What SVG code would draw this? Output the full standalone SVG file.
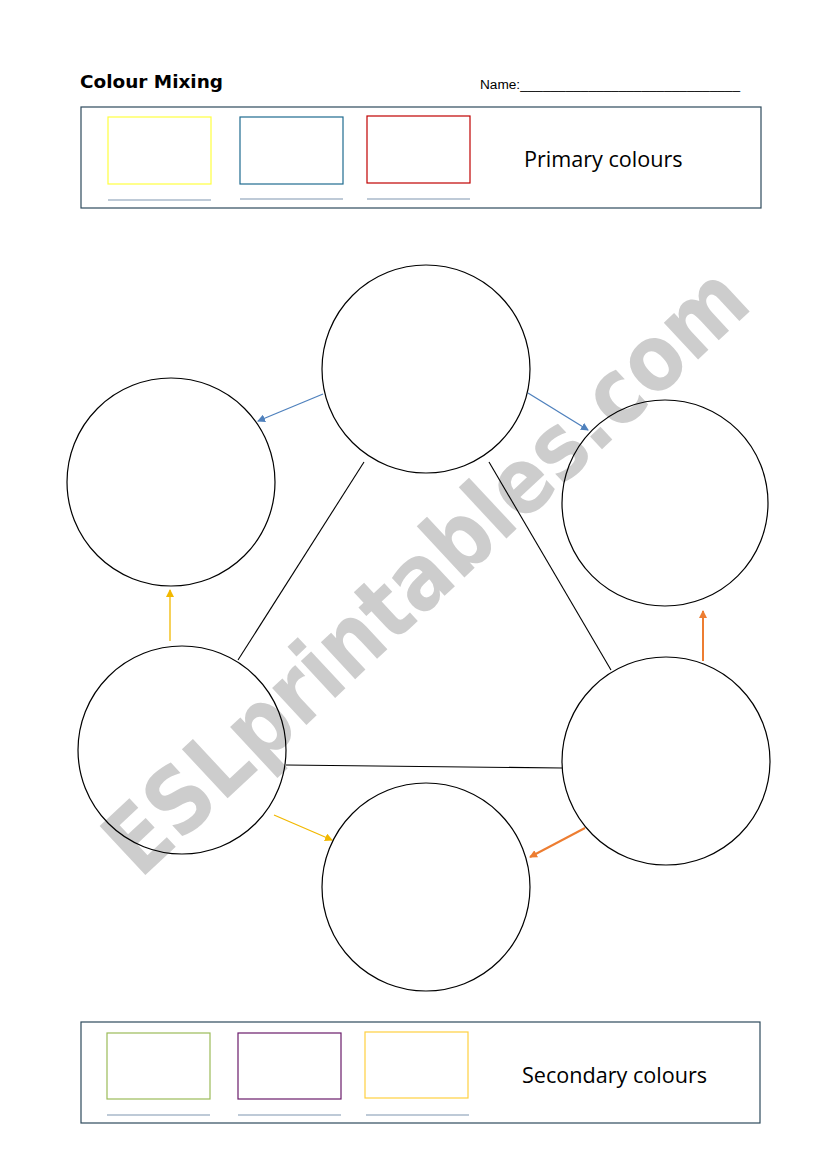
<svg xmlns="http://www.w3.org/2000/svg" width="826" height="1169" viewBox="0 0 826 1169">
<style>
.circle{fill:none;stroke:#000;stroke-width:1.2}
.box{fill:none;stroke:#2e4a5c;stroke-width:1.2}
.ul{stroke:#7f95b0;stroke-width:1.2}
.lbl{font-family:"Open Sans","Liberation Sans",sans-serif;font-size:21.6px;fill:#000}
.tri{stroke:#000;stroke-width:1.1;fill:none}
</style>
<defs>
<marker id="ab" markerWidth="8" markerHeight="8" refX="7" refY="4" orient="auto" markerUnits="userSpaceOnUse"><path d="M0,0 L8,4 L0,8 Z" fill="#4f81bd"/></marker>
<marker id="ay" markerWidth="8" markerHeight="8" refX="7" refY="4" orient="auto" markerUnits="userSpaceOnUse"><path d="M0,0 L8,4 L0,8 Z" fill="#f2b800"/></marker>
<marker id="ao" markerWidth="8" markerHeight="8" refX="7" refY="4" orient="auto" markerUnits="userSpaceOnUse"><path d="M0,0 L8,4 L0,8 Z" fill="#ed7d31"/></marker>
</defs>
<rect width="826" height="1169" fill="#fff"/>
<text x="80" y="88" font-family="DejaVu Sans, sans-serif" font-weight="bold" font-size="18" fill="#000" textLength="143" lengthAdjust="spacingAndGlyphs">Colour Mixing</text>
<text x="480" y="89" font-family="Liberation Sans Narrow, Liberation Sans, sans-serif" font-size="12" fill="#000" textLength="260" lengthAdjust="spacingAndGlyphs">Name:_____________________________</text>
<g id="primary">
<rect class="box" x="81" y="107" width="680" height="101"/>
<rect x="108" y="117" width="103" height="67" fill="none" stroke="#ffff40" stroke-width="1.2"/>
<rect x="240" y="117" width="103" height="67" fill="none" stroke="#1f6b8f" stroke-width="1.2"/>
<rect x="367" y="116" width="103" height="67" fill="none" stroke="#c00000" stroke-width="1.2"/>
<line class="ul" x1="108" y1="200" x2="211" y2="200"/>
<line class="ul" x1="240" y1="199" x2="343" y2="199"/>
<line class="ul" x1="367" y1="199" x2="470" y2="199"/>
<text class="lbl" x="524" y="167">Primary colours</text>
</g>
<text x="0" y="0" transform="translate(140,880) rotate(-43)" font-family="DejaVu Sans, sans-serif" font-weight="bold" font-size="92" fill="#bdbdbd" opacity="0.75" textLength="840" lengthAdjust="spacingAndGlyphs">ESLprintables.com</text>
<g id="connectors">
<line class="tri" x1="364" y1="462" x2="238" y2="660"/>
<line class="tri" x1="489" y1="462" x2="611" y2="670"/>
<line class="tri" x1="286" y1="765" x2="562" y2="768"/>
<line x1="323" y1="394" x2="258" y2="421" stroke="#4f81bd" stroke-width="1.3" marker-end="url(#ab)"/>
<line x1="528" y1="393" x2="588" y2="430" stroke="#4f81bd" stroke-width="1.3" marker-end="url(#ab)"/>
<line x1="170" y1="641" x2="170" y2="590" stroke="#f2b800" stroke-width="1.3" marker-end="url(#ay)"/>
<line x1="274" y1="815" x2="332" y2="840" stroke="#f2b800" stroke-width="1.3" marker-end="url(#ay)"/>
<line x1="585" y1="828" x2="530" y2="857" stroke="#ed7d31" stroke-width="2" marker-end="url(#ao)"/>
<line x1="703" y1="661" x2="703" y2="611" stroke="#ed7d31" stroke-width="2" marker-end="url(#ao)"/>
</g>
<g id="c-top"><circle class="circle" cx="426" cy="369" r="104"/></g>
<g id="c-lefttop"><circle class="circle" cx="171" cy="482" r="104"/></g>
<g id="c-righttop"><circle class="circle" cx="665" cy="503" r="103"/></g>
<g id="c-leftbottom"><circle class="circle" cx="182" cy="750" r="104"/></g>
<g id="c-rightbottom"><circle class="circle" cx="666" cy="761" r="104"/></g>
<g id="c-bottom"><circle class="circle" cx="426" cy="887" r="104"/></g>
<g id="secondary">
<rect class="box" x="81" y="1022" width="679" height="101"/>
<rect x="107" y="1033" width="103" height="66" fill="none" stroke="#9bbb59" stroke-width="1.2"/>
<rect x="238" y="1033" width="103" height="66" fill="none" stroke="#6a1b6a" stroke-width="1.2"/>
<rect x="365" y="1032" width="103" height="66" fill="none" stroke="#ffd040" stroke-width="1.2"/>
<line class="ul" x1="107" y1="1115" x2="210" y2="1115"/>
<line class="ul" x1="238" y1="1115" x2="341" y2="1115"/>
<line class="ul" x1="366" y1="1115" x2="469" y2="1115"/>
<text class="lbl" x="522" y="1083">Secondary colours</text>
</g>
</svg>
